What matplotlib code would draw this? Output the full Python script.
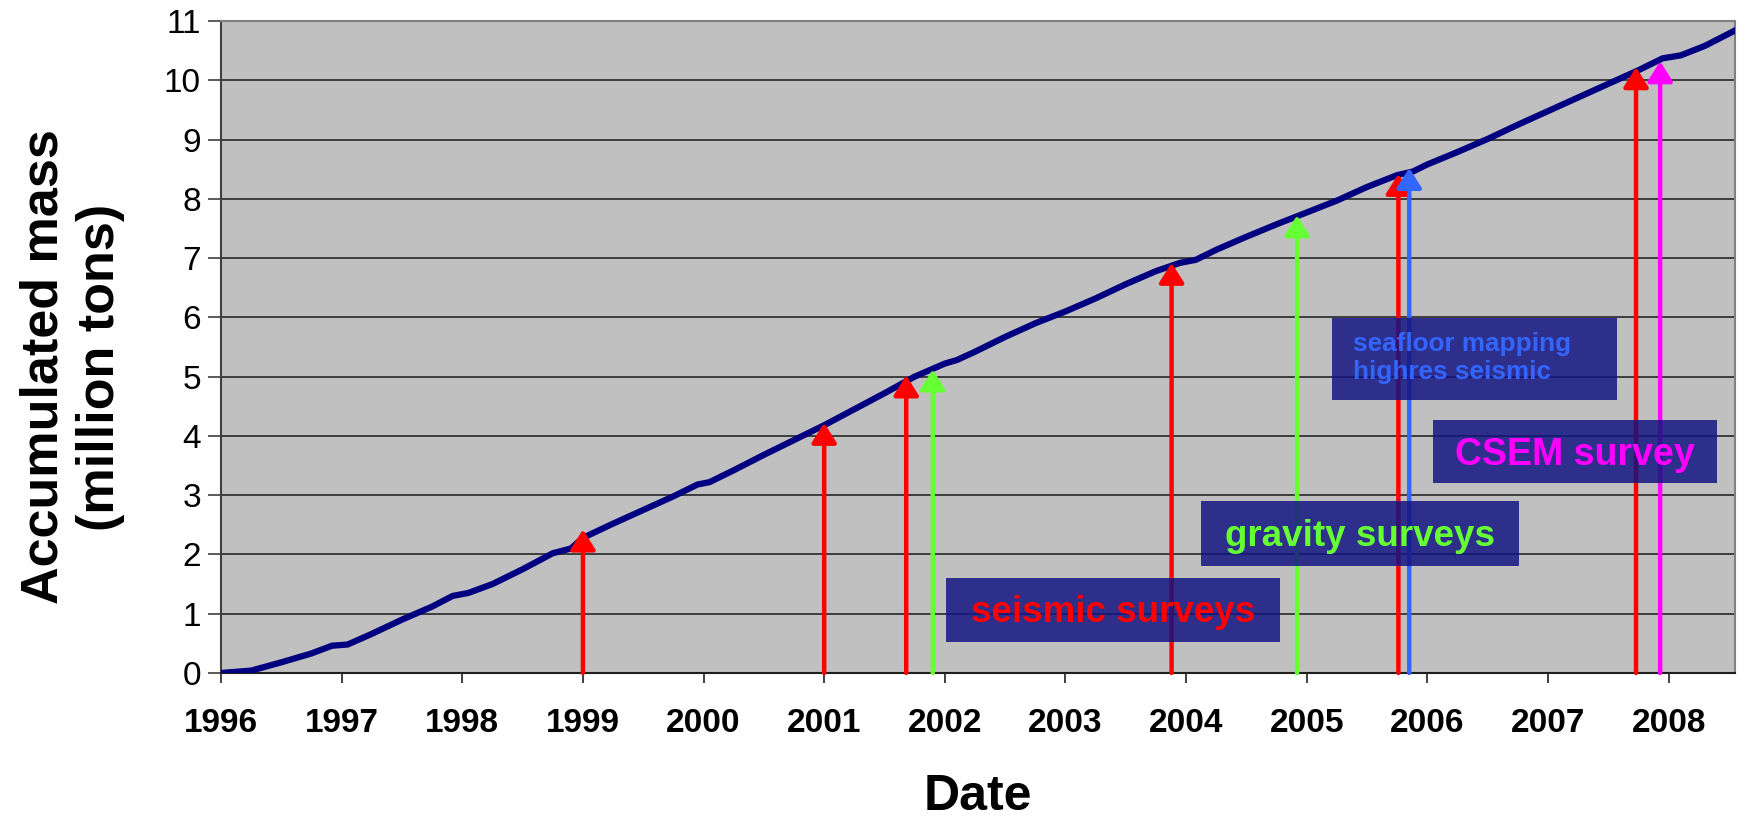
import matplotlib
matplotlib.use("Agg")
import matplotlib.pyplot as plt
from matplotlib.patches import Rectangle

plt.rcParams['font.family'] = ['Liberation Sans', 'DejaVu Sans']

# accumulated injected mass, read roughly quarterly (year, million tons)
years = [1996.00, 1996.25, 1996.50, 1996.75, 1996.92, 1997.05, 1997.25, 1997.50,
         1997.75, 1997.92, 1998.05, 1998.25, 1998.50, 1998.75, 1998.90, 1999.00,
         1999.25, 1999.50, 1999.75, 1999.95, 2000.05, 2000.25, 2000.50, 2000.75,
         2001.00, 2001.25, 2001.50, 2001.75, 2002.00, 2002.10, 2002.25, 2002.50,
         2002.75, 2003.00, 2003.25, 2003.50, 2003.75, 2003.95, 2004.08, 2004.25,
         2004.50, 2004.75, 2005.00, 2005.25, 2005.50, 2005.75, 2005.88, 2006.00,
         2006.25, 2006.50, 2006.75, 2007.00, 2007.25, 2007.50, 2007.75, 2007.95,
         2008.10, 2008.30, 2008.56]
mass = [0.00, 0.04, 0.18, 0.33, 0.46, 0.48, 0.66, 0.90,
        1.12, 1.30, 1.35, 1.50, 1.75, 2.02, 2.10, 2.28,
        2.52, 2.75, 2.98, 3.18, 3.22, 3.42, 3.68, 3.93,
        4.18, 4.45, 4.72, 5.00, 5.22, 5.28, 5.42, 5.67,
        5.90, 6.10, 6.32, 6.56, 6.78, 6.92, 6.97, 7.14,
        7.36, 7.57, 7.77, 7.97, 8.20, 8.40, 8.46, 8.58,
        8.79, 9.01, 9.25, 9.48, 9.71, 9.94, 10.17, 10.37,
        10.42, 10.58, 10.85]

# monitoring surveys: (date, arrow tip, colour)
survey_dates = [1999.00, 2001.00, 2001.68, 2001.90, 2003.88, 2004.92, 2005.76, 2005.85, 2007.73, 2007.93]
survey_tips = [2.42, 4.22, 5.02, 5.12, 6.92, 7.72, 8.42, 8.52, 10.22, 10.32]
survey_colors = ['#ff0000', '#ff0000', '#ff0000', '#66ff33', '#ff0000',
                 '#66ff33', '#ff0000', '#3366ff', '#ff0000', '#ff00ff']

fig = plt.figure(figsize=(17.5, 8.21), dpi=100)
ax = fig.add_axes([0.1263, 0.1803, 0.8651, 0.7941])
ax.set_facecolor('#c0c0c0')

ax.plot(years, mass, color='#000080', lw=4.5, solid_capstyle='round', zorder=3)

for x, tip, c in zip(survey_dates, survey_tips, survey_colors):
    ax.annotate('', xy=(x, tip), xytext=(x, 0), zorder=4,
                arrowprops=dict(arrowstyle='-|>,head_width=0.38,head_length=0.6',
                                mutation_scale=20, lw=3.2, color=c,
                                shrinkA=0, shrinkB=0))

# labelled boxes for each survey type
boxes = [
    (2002.01, 0.53, 2.77, 1.07, 'seismic surveys', '#ff0000', 26.5),
    (2004.12, 1.81, 2.64, 1.09, 'gravity surveys', '#66ff33', 26.5),
    (2005.21, 4.61, 2.36, 1.38, 'seafloor mapping\nhighres seismic', '#3366ff', 18.8),
    (2006.05, 3.20, 2.35, 1.06, 'CSEM survey', '#ff00ff', 27),
]
for x0, y0, w, h, label, c, fs in boxes:
    ax.add_patch(Rectangle((x0, y0), w, h, facecolor='#141482', alpha=0.85,
                           edgecolor='none', zorder=5))
    if '\n' in label:
        ax.text(x0 + 0.17, y0 + h / 2 + 0.02, label, color=c, fontsize=fs, fontweight='bold',
                ha='left', va='center', linespacing=1.2, zorder=6)
    else:
        ax.text(x0 + w / 2, y0 + h / 2 - 0.05, label, color=c, fontsize=fs,
                fontweight='bold', ha='center', va='center', zorder=6)

ax.set_xlim(1996, 2008.55)
ax.set_ylim(0, 11)
ax.set_yticks(range(0, 12))
ax.set_xticks(range(1996, 2009))
ax.set_xticklabels([str(y) for y in range(1996, 2009)], fontweight='bold')
ax.tick_params(axis='y', labelsize=24, length=9.5, width=1.2, pad=5, color='#404040')
ax.tick_params(axis='x', labelsize=24, length=7, width=1.2, pad=18, color='#202020')
ax.grid(axis='y', color='#1a1a1a', lw=1.1)
ax.set_axisbelow(True)

for side in ('top', 'right'):
    ax.spines[side].set_color('#808080')
    ax.spines[side].set_linewidth(1.5)
ax.spines['left'].set_color('#404040')
ax.spines['left'].set_linewidth(1.5)
ax.spines['bottom'].set_color('#202020')
ax.spines['bottom'].set_linewidth(1.5)

fig.text(0.0415, 0.553, 'Accumulated mass\n(million tons)', rotation=90, fontsize=37.5,
         fontweight='bold', ha='center', va='center', multialignment='center')
fig.text(0.559, 0.029, 'Date', fontsize=36, fontweight='bold', ha='center', va='center')

fig.savefig('out.png', dpi=100)
